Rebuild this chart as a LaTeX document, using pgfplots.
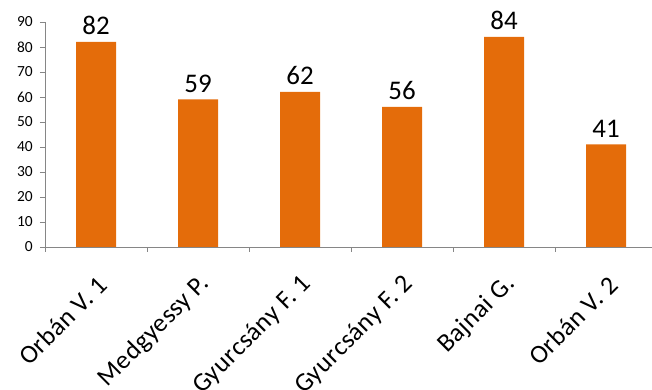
\documentclass[border=0pt]{standalone}
\usepackage{pgfplots}
\pgfplotsset{compat=1.18}
\usepackage{fontspec}
\setmainfont{Carlito}
\newfontfamily\catfont[LetterSpace=2]{Carlito}
\definecolor{barorange}{RGB}{228,108,10}
\definecolor{axgray}{RGB}{134,134,134}
\begin{document}
\begin{tikzpicture}
\begin{axis}[
  scale only axis,
  width=607bp, height=225bp,
  xmin=-0.5, xmax=5.45,
  ymin=0, ymax=90,
  ytick={0,10,...,90},
  xtick={0,1,2,3,4,5},
  xticklabels={Orbán V. 1, Medgyessy P., Gyurcsány F. 1, Gyurcsány F. 2, Bajnai G., Orbán V. 2},
  minor xtick={-0.5,0.5,1.5,2.5,3.5,4.5},
  major x tick style={draw=none},
  minor tick length=5bp,
  major tick length=5bp,
  tick style={axgray, line width=0.8pt},
  axis x line*=bottom,
  axis y line*=left,
  axis line style={axgray, line width=0.8pt, -},
  tick align=outside,
  /pgf/number format/assume math mode=true,
  yticklabel style={font=\fontsize{15.5}{18}\selectfont, black, inner sep=0pt, xshift=-7bp},
  xticklabel style={font=\catfont\fontsize{26}{31}\selectfont, black, rotate=45, anchor=east, inner sep=0pt, xshift=-15bp, yshift=-25bp},
  ybar,
  bar width=40bp,
  nodes near coords,
  nodes near coords style={font=\fontsize{27}{32}\selectfont, black, anchor=south, inner sep=0pt, yshift=7bp},
  clip=false,
]
\addplot[fill=barorange, draw=none] coordinates {(0,82) (1,59) (2,62) (3,56) (4,84) (5,41)};
\coordinate (sw) at (rel axis cs:0,0);
\coordinate (ne) at (rel axis cs:1,1);
\end{axis}
\pgfresetboundingbox
\path ([shift={(-45bp,-143bp)}]sw) rectangle ([shift={(0bp,22bp)}]ne);
\end{tikzpicture}
\end{document}
